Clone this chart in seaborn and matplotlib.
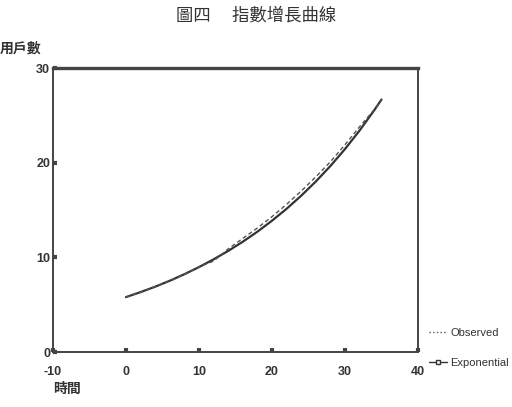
import matplotlib
matplotlib.use("Agg")
import matplotlib.pyplot as plt
import seaborn as sns
import pandas as pd
from matplotlib.lines import Line2D

# Data
time_points = [0, 2, 4, 6, 8, 10, 12, 14, 16, 18, 20, 22, 24, 26, 28, 30, 32, 34, 35]
observed = [5.8, 6.3, 6.9, 7.5, 8.2, 9.0, 9.6, 10.9, 12.0, 13.1, 14.3, 15.6, 17.0, 18.5, 20.1, 21.9, 23.8, 25.6, 26.6]
exponential = [5.80, 6.33, 6.90, 7.53, 8.22, 8.97, 9.79, 10.68, 11.65, 12.71, 13.87, 15.13, 16.51, 18.01, 19.65, 21.44, 23.40, 25.53, 26.67]
x_ticks = [-10, 0, 10, 20, 30, 40]
y_ticks = [0, 10, 20, 30]
title = "圖四　 指數增長曲線"
x_label = "時間"
y_label = "用戶數"
series_names = ["Observed", "Exponential"]

sns.set_theme(style="white")
plt.rcParams['font.family'] = ['Liberation Sans', 'Noto Sans CJK TC', 'DejaVu Sans']

df = pd.DataFrame({"t": time_points, "Observed": observed, "Exponential": exponential})

fig = plt.figure(figsize=(5.12, 4.07), dpi=100)
ax = fig.add_axes([0.1035, 0.1351, 0.7129, 0.6978])

sns.lineplot(data=df, x="t", y="Exponential", ax=ax, color="#333333", linewidth=1.6)
sns.lineplot(data=df, x="t", y="Observed", ax=ax, color="#555555", linewidth=1.0,
             linestyle=(0, (3, 2)))

ax.set_xlim(-10, 40)
ax.set_ylim(0, 30)
ax.set_xticks(x_ticks)
ax.set_yticks(y_ticks)
ax.set_xticklabels([str(v) for v in x_ticks], fontsize=9, fontweight='bold', color='#333333')
ax.set_yticklabels([str(v) for v in y_ticks], fontsize=9, fontweight='bold', color='#333333')
ax.tick_params(axis='x', direction='in', length=3, width=3, color='#444444', pad=10, bottom=True)
ax.tick_params(axis='y', direction='in', length=3, width=3, color='#444444', pad=2, left=True)

for name, sp in ax.spines.items():
    sp.set_visible(True)
    sp.set_color('#444444')
    sp.set_linewidth(1.4)
ax.spines['top'].set_linewidth(2.4)

ax.set_xlabel(x_label, fontsize=10, fontweight='bold', color='#333333',
              family=['Noto Sans CJK TC'], loc='left', labelpad=3)
ax.set_ylabel("")
fig.text(0.0, 0.882, y_label, fontsize=10, fontweight='bold', color='#333333',
         family=['Noto Sans CJK TC'], ha='left', va='center')
fig.text(0.5, 0.962, title, fontsize=12.5, color='#333333',
         family=['Noto Sans CJK TC'], ha='center', va='center', fontweight='light')

handles = [Line2D([], [], color='#555555', linestyle=':', linewidth=1.0, marker=None),
           Line2D([], [], color='#333333', linestyle='-', linewidth=1.0, marker='s',
                  markersize=3, markerfacecolor='white', markeredgecolor='#333333')]
leg = ax.legend(handles, series_names, loc='lower left', bbox_to_anchor=(1.025, -0.065),
                frameon=False, fontsize=8, handlelength=1.6, labelspacing=1.8,
                handletextpad=0.3, borderpad=0.2, borderaxespad=0.0)
for txt in leg.get_texts():
    txt.set_color('#333333')

fig.savefig("out.png", dpi=100)
